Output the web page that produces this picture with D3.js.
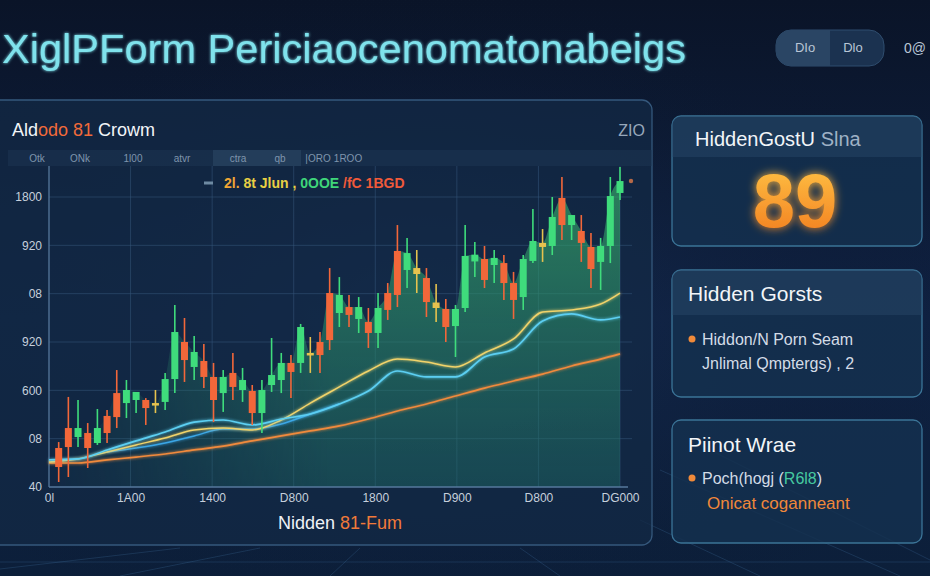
<!DOCTYPE html>
<html>
<head>
<meta charset="utf-8">
<script src="https://cdn.jsdelivr.net/npm/d3@7"></script>
<style>
  html, body { margin: 0; padding: 0; background: #0a1529; }
  svg { display: block; font-family: "Liberation Sans", Arial, sans-serif; }
</style>
</head>
<body>
<div id="main"></div>
<script>
// ---- data ----
const opens  = [242,366,310,335,273,441,583,521,540,540,509,528,670,900,745,782,683,583,708,602,596,459,633,664,770,770,819,900,1204,1080,1117,1043,1024,956,1204,1465,1347,1322,1297,1111,1105,999,1111,1400,1415,1378,1390,1266,1179,1403,1490,1496,1794,1626,1589,1490,1397,1496,1825];
const closes = [124,248,366,242,366,335,434,602,590,490,521,670,962,788,838,683,540,683,621,664,459,602,695,770,714,993,832,819,912,1192,1068,1117,956,1111,1099,1192,1452,1359,1148,1145,993,1105,1434,1442,1285,1422,1266,1161,1415,1527,1515,1676,1626,1688,1515,1353,1496,1806,1899];
const highs  = [279,559,540,397,484,478,726,664,590,552,602,708,1130,1049,937,888,770,726,832,739,633,664,925,832,819,1012,931,962,1359,1303,1192,1179,1111,1204,1266,1626,1546,1471,1359,1260,1167,1130,1626,1521,1496,1471,1440,1335,1440,1726,1601,1800,1924,1688,1688,1577,1546,1924,1986];
const lows   = [31,62,248,118,261,273,366,428,459,385,459,478,583,652,664,614,403,466,540,528,385,335,590,583,552,708,708,708,850,993,993,956,863,863,1037,1117,1235,1204,1055,1024,900,807,1086,1303,1235,1266,1161,1043,1099,1390,1397,1440,1533,1533,1397,1235,1223,1390,1781];

// moving-average style lines, sampled at these candle positions
const lineIdx = [-1,2,5,8,11,14,17,20,23,26,29,32,35,38,41,44,47,50,53,56,58];
const maYellow = [155,174,217,261,304,354,366,354,416,521,621,720,794,776,745,832,919,1086,1099,1136,1204];
const maCyan   = [168,174,230,286,341,403,416,385,422,453,515,596,720,683,683,807,857,1030,1074,1037,1055];
const maBlue   = [null,null,217,242,273,317,360,360,391,453,515,null,null,null,null,null,null,null,null,null,null];
const maOrange = [149,149,168,186,205,230,254,286,317,348,379,422,472,515,565,614,658,701,751,794,826];

const yTicks = [0,300,600,900,1200,1500,1800];
const yTickLabels = ["40","08","600","920","08","920","1800"];
const xTickLabels = ["0l","1A00","1400","D800","1800","D900","D800","DG000"];
const headerTabs = ["Otk","ONk","1l00","atvr","ctra","qb","|ORO","1ROO"];
const headerTabX = [37,80,133,182,238,280,318,348];

const W = 930, H = 576;
const svg = d3.select("#main").append("svg").attr("width", W).attr("height", H);
const defs = svg.append("defs");

// ---- background ----
const bg = defs.append("linearGradient").attr("id", "bg").attr("x1", 0).attr("y1", 0).attr("x2", 0).attr("y2", 1);
bg.append("stop").attr("offset", "0%").attr("stop-color", "#0a1428");
bg.append("stop").attr("offset", "55%").attr("stop-color", "#0f2142");
bg.append("stop").attr("offset", "100%").attr("stop-color", "#0c1f3a");
svg.append("rect").attr("width", W).attr("height", H).attr("fill", "url(#bg)");

const glowBg = defs.append("radialGradient").attr("id", "glowBg").attr("cx", 0.45).attr("cy", 0.55).attr("r", 0.6);
glowBg.append("stop").attr("offset", "0%").attr("stop-color", "#1b3760").attr("stop-opacity", 0.55);
glowBg.append("stop").attr("offset", "100%").attr("stop-color", "#0a1428").attr("stop-opacity", 0);
svg.append("rect").attr("width", W).attr("height", H).attr("fill", "url(#glowBg)");

// faint streaks near the bottom
const streaks = svg.append("g").attr("stroke", "#4f86b8").attr("stroke-opacity", 0.22).attr("fill", "none");
[[-60,576,180,548],[120,576,260,548],[330,576,360,548],[560,576,520,548],[760,576,640,520],[930,560,690,440],[900,576,660,470],[0,562,930,562]]
  .forEach(s => streaks.append("line").attr("x1", s[0]).attr("y1", s[1]).attr("x2", s[2]).attr("y2", s[3]).attr("stroke-width", 1));

// filters
const soft = defs.append("filter").attr("id", "soft").attr("x", "-20%").attr("y", "-20%").attr("width", "140%").attr("height", "140%");
soft.append("feGaussianBlur").attr("stdDeviation", 1.6).attr("result", "b");
const sm = soft.append("feMerge");
sm.append("feMergeNode").attr("in", "b");
sm.append("feMergeNode").attr("in", "SourceGraphic");

const big = defs.append("filter").attr("id", "big").attr("x", "-30%").attr("y", "-30%").attr("width", "160%").attr("height", "160%");
big.append("feGaussianBlur").attr("stdDeviation", 5).attr("result", "b");
const bm = big.append("feMerge");
bm.append("feMergeNode").attr("in", "b");
bm.append("feMergeNode").attr("in", "SourceGraphic");

// ---- title ----
svg.append("text")
  .attr("x", 2).attr("y", 63)
  .attr("font-size", 41)
  .attr("fill", "#7fe2ec")
  .attr("textLength", 684).attr("lengthAdjust", "spacingAndGlyphs")
  .attr("filter", "url(#soft)")
  .text("XiglPForm Periciaocenomatonabeigs");

// top right pill
const pill = svg.append("g");
pill.append("rect").attr("x", 776).attr("y", 30).attr("width", 108).attr("height", 36).attr("rx", 15)
  .attr("fill", "#1b3250").attr("stroke", "#2f4d6e");
pill.append("path").attr("d", "M791,30 H830 V66 H791 A15,15 0 0 1 776,51 V45 A15,15 0 0 1 791,30 Z").attr("fill", "#2a4564");
pill.append("text").attr("x", 805).attr("y", 52).attr("text-anchor", "middle").attr("font-size", 13).attr("fill", "#b9c6d6").text("DIo");
pill.append("text").attr("x", 853).attr("y", 52).attr("text-anchor", "middle").attr("font-size", 13).attr("fill", "#b9c6d6").text("Dlo");
svg.append("text").attr("x", 904).attr("y", 53).attr("font-size", 14).attr("fill", "#b9c6d6").text("0@");

// ---- main panel ----
svg.append("rect").attr("x", -10).attr("y", 100).attr("width", 662).attr("height", 445).attr("rx", 10)
  .attr("fill", "#132946").attr("fill-opacity", 0.75).attr("stroke", "#35587c").attr("stroke-width", 1.3);

const pt = svg.append("text").attr("x", 12).attr("y", 136).attr("font-size", 18).attr("fill", "#f2f5f8");
pt.append("tspan").text("Ald");
pt.append("tspan").attr("fill", "#f06a3a").text("odo 81");
pt.append("tspan").text(" Crowm");
svg.append("text").attr("x", 645).attr("y", 136).attr("text-anchor", "end").attr("font-size", 16).attr("fill", "#97a8bb").text("ZIO");

// header row in chart
svg.append("rect").attr("x", 8).attr("y", 150).attr("width", 644).attr("height", 16).attr("fill", "#1d3654").attr("fill-opacity", 0.5);
svg.append("rect").attr("x", 213).attr("y", 150).attr("width", 88).attr("height", 16).attr("fill", "#3a5878").attr("fill-opacity", 0.35);
svg.append("g").selectAll("text").data(headerTabs).join("text")
  .attr("x", (d, i) => headerTabX[i]).attr("y", 162)
  .attr("text-anchor", "middle").attr("font-size", 10).attr("fill", "#7f95ad")
  .text(d => d);

// ---- scales ----
const xGrid = d3.scaleLinear().domain([0, 7]).range([49, 620]);
const xC = d3.scaleLinear().domain([-1, 58]).range([49, 620]);
const y = d3.scaleLinear().domain([0, 1800]).range([487, 197]);

const candles = opens.map((o, i) => ({ i, open: o, close: closes[i], high: highs[i], low: lows[i] }));

// grid
const grid = svg.append("g").attr("stroke", "#35557a").attr("stroke-opacity", 0.55).attr("stroke-width", 1);
grid.selectAll("line.v").data(d3.range(1, 8)).join("line")
  .attr("x1", d => xGrid(d)).attr("x2", d => xGrid(d)).attr("y1", 166).attr("y2", 487);
grid.selectAll("line.h").data(yTicks.slice(1)).join("line")
  .attr("x1", 49).attr("x2", 632).attr("y1", d => y(d)).attr("y2", d => y(d));

// area under price
const areaFill = defs.append("linearGradient").attr("id", "areaFill").attr("x1", 0).attr("y1", 0).attr("x2", 0).attr("y2", 1);
areaFill.append("stop").attr("offset", "0%").attr("stop-color", "#38ad6a").attr("stop-opacity", 0.66);
areaFill.append("stop").attr("offset", "100%").attr("stop-color", "#1f6d66").attr("stop-opacity", 0.45);
const fadeGrad = defs.append("linearGradient").attr("id", "fadeGrad").attr("gradientUnits", "userSpaceOnUse")
  .attr("x1", 49).attr("y1", 0).attr("x2", 330).attr("y2", 0);
fadeGrad.append("stop").attr("offset", "0%").attr("stop-color", "#fff").attr("stop-opacity", 0.08);
fadeGrad.append("stop").attr("offset", "100%").attr("stop-color", "#fff").attr("stop-opacity", 1);
defs.append("mask").attr("id", "fadeMask").attr("maskUnits", "userSpaceOnUse")
  .attr("x", 0).attr("y", 0).attr("width", W).attr("height", H)
  .append("rect").attr("width", W).attr("height", H).attr("fill", "url(#fadeGrad)");

const area = d3.area()
  .x(d => xC(d.i))
  .y0(y(0))
  .y1(d => y(Math.max(d.open, d.close)))
  .curve(d3.curveMonotoneX);
svg.append("path").datum(candles).attr("d", area)
  .attr("fill", "url(#areaFill)").attr("mask", "url(#fadeMask)");

// axes
const yAxis = svg.append("g").attr("transform", "translate(49,0)")
  .call(d3.axisLeft(y).tickValues(yTicks).tickFormat((d, i) => yTickLabels[i]).tickSize(0).tickPadding(7));
const xAxis = svg.append("g").attr("transform", "translate(0,487)")
  .call(d3.axisBottom(xGrid).tickValues(d3.range(8)).tickFormat((d, i) => xTickLabels[i]).tickSize(0).tickPadding(6));
[yAxis, xAxis].forEach(a => {
  a.select(".domain").remove();
  a.selectAll("text").attr("fill", "#c6d0dc").attr("font-size", 12).attr("font-family", "Liberation Sans, Arial, sans-serif");
});
svg.append("line").attr("x1", 49).attr("x2", 49).attr("y1", 166).attr("y2", 487).attr("stroke", "#56789c").attr("stroke-width", 1.3);
svg.append("line").attr("x1", 49).attr("x2", 628).attr("y1", 487).attr("y2", 487).attr("stroke", "#56789c").attr("stroke-width", 1.3);

// ---- lines ----
function drawLine(values, color, width) {
  const pts = values.map((v, k) => ({ i: lineIdx[k], v }));
  const line = d3.line().defined(d => d.v != null).x(d => xC(d.i)).y(d => y(d.v)).curve(d3.curveMonotoneX);
  svg.append("path").datum(pts).attr("d", line)
    .attr("fill", "none").attr("stroke", color).attr("stroke-width", width).attr("filter", "url(#soft)");
}
drawLine(maOrange, "#f08a3c", 1.7);
drawLine(maBlue, "#3aa6e6", 1.5);
drawLine(maYellow, "#f1d36a", 1.5);
drawLine(maCyan, "#5ccff2", 1.7);

// ---- candles ----
const colorOf = d => Math.abs(d.close - d.open) <= 40 ? "#e6c24e" : (d.close > d.open ? "#3fdc7c" : "#f2673a");
const bw = 7;
const cg = svg.append("g").selectAll("g").data(candles).join("g");
cg.append("line")
  .attr("x1", d => xC(d.i)).attr("x2", d => xC(d.i))
  .attr("y1", d => y(d.high)).attr("y2", d => y(d.low))
  .attr("stroke", colorOf).attr("stroke-width", 1.6);
cg.append("rect")
  .attr("x", d => xC(d.i) - bw / 2).attr("width", bw)
  .attr("y", d => y(Math.max(d.open, d.close)))
  .attr("height", d => Math.max(2.5, Math.abs(y(d.open) - y(d.close))))
  .attr("fill", colorOf);

// last price marker
const last = candles[candles.length - 1];
svg.append("circle").attr("cx", xC(last.i) + 11).attr("cy", y(last.close)).attr("r", 2.2).attr("fill", "#e07a4a").attr("opacity", 0.8);

// legend row
svg.append("line").attr("x1", 204).attr("x2", 213).attr("y1", 183).attr("y2", 183).attr("stroke", "#6e8aa2").attr("stroke-width", 3);
const lg = svg.append("text").attr("x", 224).attr("y", 188).attr("font-size", 14).attr("font-weight", "bold");
lg.append("tspan").attr("fill", "#f0a534").text("2l. ");
lg.append("tspan").attr("fill", "#e8d044").text("8t Jlun , ");
lg.append("tspan").attr("fill", "#3fd67a").text("0OOE ");
lg.append("tspan").attr("fill", "#f05a3a").text("/fC 1BGD");

// x title
const xt = svg.append("text").attr("x", 340).attr("y", 529).attr("text-anchor", "middle").attr("font-size", 18).attr("fill", "#eef2f6");
xt.append("tspan").text("Nidden ");
xt.append("tspan").attr("fill", "#f07a3a").text("81-Fum");

// ---- right cards ----
function card(y0, h, headH) {
  const g = svg.append("g");
  g.append("rect").attr("x", 672).attr("y", y0).attr("width", 250).attr("height", h).attr("rx", 9)
    .attr("fill", "#14304f").attr("fill-opacity", 0.85).attr("stroke", "#3b7497").attr("stroke-width", 1.3);
  if (headH) {
    g.append("path")
      .attr("d", `M681,${y0} H913 A9,9 0 0 1 922,${y0 + 9} V${y0 + headH} H672 V${y0 + 9} A9,9 0 0 1 681,${y0} Z`)
      .attr("fill", "#2a4a6a").attr("fill-opacity", 0.45);
  }
  return g;
}

const c1 = card(116, 130, 41);
const t1 = c1.append("text").attr("x", 695).attr("y", 146).attr("font-size", 20).attr("fill", "#f2f5f8");
t1.append("tspan").text("HiddenGostU ");
t1.append("tspan").attr("fill", "#9fb1c5").text("Slna");
const numGrad = defs.append("linearGradient").attr("id", "numGrad").attr("x1", 0).attr("y1", 0).attr("x2", 0).attr("y2", 1);
numGrad.append("stop").attr("offset", "0%").attr("stop-color", "#ffc646");
numGrad.append("stop").attr("offset", "100%").attr("stop-color", "#f27a1e");
c1.append("text").attr("x", 795).attr("y", 227).attr("text-anchor", "middle").attr("font-size", 76).attr("font-weight", 600)
  .attr("fill", "url(#numGrad)").attr("filter", "url(#big)").text("89");

const c2 = card(270, 127, 45);
c2.append("text").attr("x", 688).attr("y", 301).attr("font-size", 21).attr("fill", "#f2f5f8").text("Hidden Gorsts");
c2.append("circle").attr("cx", 692).attr("cy", 339).attr("r", 3.5).attr("fill", "#f08a3a");
c2.append("text").attr("x", 702).attr("y", 345).attr("font-size", 16).attr("fill", "#d3dce7").text("Hiddon/N Porn  Seam");
c2.append("text").attr("x", 702).attr("y", 369).attr("font-size", 16).attr("fill", "#d3dce7").text("Jnlimal Qmptergs) , 2");

const c3 = card(420, 123, 0);
c3.append("text").attr("x", 688).attr("y", 452).attr("font-size", 21).attr("fill", "#f2f5f8").text("Piinot Wrae");
c3.append("circle").attr("cx", 692).attr("cy", 478).attr("r", 3.5).attr("fill", "#f08a3a");
const l3 = c3.append("text").attr("x", 702).attr("y", 484).attr("font-size", 16).attr("fill", "#d3dce7");
l3.append("tspan").text("Poch(hogj (");
l3.append("tspan").attr("fill", "#46c9a0").text("R6l8");
l3.append("tspan").text(")");
c3.append("text").attr("x", 707).attr("y", 509).attr("font-size", 17).attr("fill", "#f0883a").text("Onicat coganneant");
</script>
</body>
</html>
